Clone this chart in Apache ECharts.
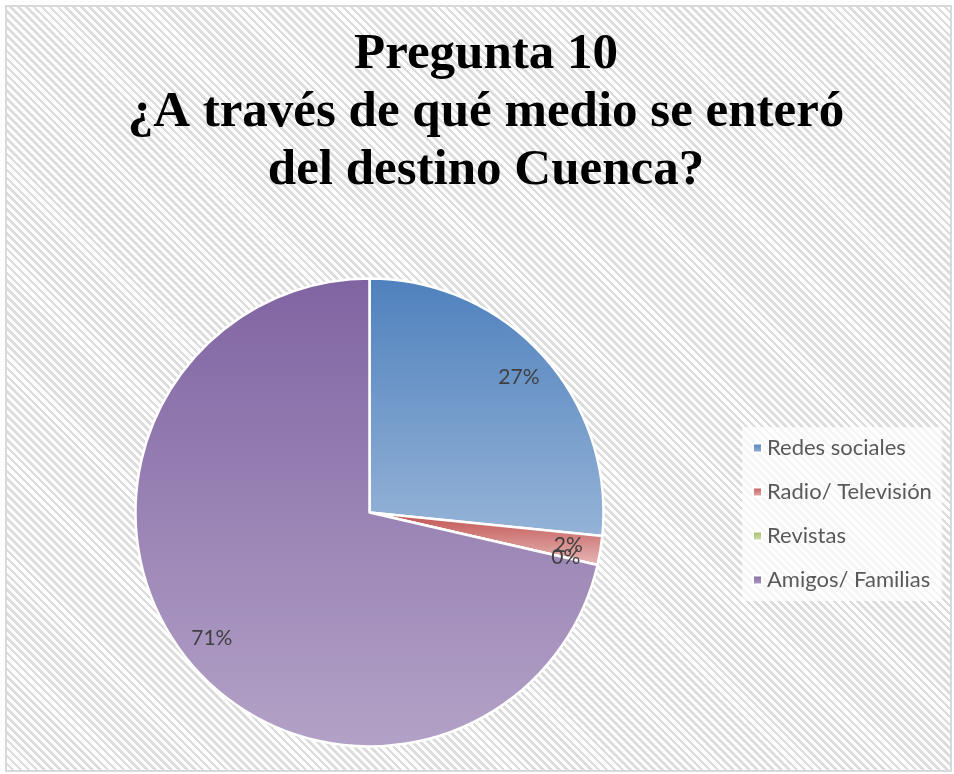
<!DOCTYPE html>
<html>
<head>
<meta charset="utf-8">
<script src="https://cdn.jsdelivr.net/npm/echarts@6/dist/echarts.min.js"></script>
<style>
  html, body { margin: 0; padding: 0; background: #fff; }
  #frame {
    position: absolute; left: 5px; top: 5px; width: 947px; height: 767px;
    border: 2px solid #d9d9d9; box-sizing: border-box;
    background: repeating-linear-gradient(45deg, #ffffff 0px, #ffffff 3px, #dcdcdc 3px, #dcdcdc 5.6px);
  }
  #chart { position: absolute; left: 0; top: 0; width: 954px; height: 774px; }
</style>
</head>
<body>
<div id="frame"></div>
<div id="chart"></div>
<script>
const TITLE = 'Pregunta 10\n¿A través de qué medio se enteró\ndel destino Cuenca?';
const categories = ['Redes sociales', 'Radio/ Televisión', 'Revistas', 'Amigos/ Familias'];
const shares = [26.6, 2.0, 0, 71.4];
const topColors = ['#4f81bd', '#c0504d', '#9bbb59', '#8064a2'];
const bottomColors = ['#95b3d7', '#e6b9b8', '#d7e4bd', '#b3a2c7'];

const chart = echarts.init(document.getElementById('chart'), null, { renderer: 'canvas' });

const sliceData = categories.map((name, i) => ({
  name,
  value: shares[i],
  itemStyle: {
    color: new echarts.graphic.LinearGradient(0, 0, 0, 1, [
      { offset: 0, color: topColors[i] },
      { offset: 1, color: bottomColors[i] },
    ]),
  },
}));

chart.setOption({
  backgroundColor: 'transparent',
  animation: false,
  title: {
    text: TITLE,
    left: 481,
    top: 21,
    textAlign: 'center',
    textStyle: {
      fontFamily: 'Liberation Serif',
      fontWeight: 'bold',
      fontSize: 51,
      lineHeight: 58,
      color: '#000',
    },
  },
  legend: {
    orient: 'vertical',
    left: 742,
    top: 427,
    padding: [10, 10, 10, 10],
    backgroundColor: 'rgba(255,255,255,0.7)',
    icon: 'rect',
    itemWidth: 9,
    itemHeight: 9,
    itemGap: 22,
    data: categories,
    textStyle: { fontFamily: 'Lato', fontSize: 22, color: '#595959' },
  },
  series: [
    {
      type: 'pie',
      center: [369.5, 512.5],
      radius: [0, 234],
      startAngle: 90,
      clockwise: true,
      label: { show: false },
      labelLine: { show: false },
      itemStyle: { borderColor: '#fff', borderWidth: 2.5 },
      data: sliceData,
    },
    {
      // transparent ring, used only to place the percentage labels
      type: 'pie',
      center: [369.5, 512.5],
      radius: [163, 234],
      startAngle: 90,
      clockwise: true,
      silent: true,
      avoidLabelOverlap: false,
      labelLayout: { hideOverlap: false },
      itemStyle: { color: 'rgba(0,0,0,0)', borderWidth: 0 },
      labelLine: { show: false },
      label: {
        show: true,
        position: 'inside',
        fontFamily: 'Lato',
        fontSize: 21,
        color: '#404040',
        formatter: (p) => Math.round(p.percent) + '%',
      },
      data: categories.map((name, i) => ({ name, value: shares[i] })),
    },
  ],
});
</script>
</body>
</html>
